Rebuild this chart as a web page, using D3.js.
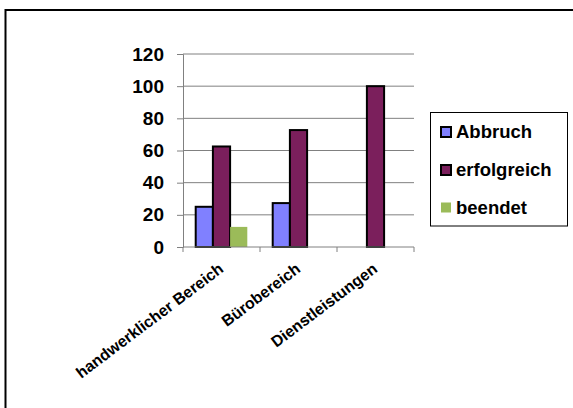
<!DOCTYPE html>
<html><head><meta charset="utf-8">
<script src="https://cdn.jsdelivr.net/npm/d3@7"></script>
<style>body{margin:0;background:#fff;overflow:hidden}svg{display:block}text{font-family:"Liberation Sans",Arial,sans-serif;font-weight:bold;fill:#000}</style>
</head><body>
<script>
const categories = ["handwerklicher Bereich", "Bürobereich", "Dienstleistungen"];
const seriesNames = ["Abbruch", "erfolgreich", "beendet"];
const abbruch = [25, 27.3, 0];
const erfolgreich = [62.5, 72.7, 100];
const beendet = [12.5, 0, 0];
const yTicks = [0, 20, 40, 60, 80, 100, 120];
const colors = ["#8080FF", "#7B1F5C", "#9BBB59"];
const strokes = ["#000", "#000", "none"];

(function () {
const W = 573, H = 408;
const svg = d3.select("body").append("svg").attr("width", W).attr("height", H);
svg.append("rect").attr("x", 5.5).attr("y", 10).attr("width", 580).attr("height", 420)
  .attr("fill", "none").attr("stroke", "#000").attr("stroke-width", 2);

const pLeft = 183, pRight = 414, pTop = 54, pBottom = 247;
const y = d3.scaleLinear().domain([0, 120]).range([pBottom, pTop]);
const x0 = d3.scaleBand().domain(categories).range([pLeft, pRight]);
const bw = x0.bandwidth();
const x1 = d3.scaleBand().domain(seriesNames).range([bw * 0.165, bw * 0.835]);

// gridlines
svg.append("g").selectAll("line").data(yTicks.filter(d => d > 0)).join("line")
  .attr("x1", pLeft).attr("x2", pRight).attr("y1", d => y(d)).attr("y2", d => y(d))
  .attr("stroke", "#808080").attr("stroke-width", 1);

// y axis
const yAxis = svg.append("g").attr("transform", `translate(${pLeft},0)`)
  .call(d3.axisLeft(y).tickValues(yTicks).tickSize(6).tickPadding(13));
yAxis.select(".domain").attr("stroke", "#808080");
yAxis.selectAll(".tick line").attr("stroke", "#808080");
yAxis.selectAll("text").attr("font-size", 19).attr("font-family", "Liberation Sans, Arial").attr("font-weight", "bold").attr("fill", "#000");

// bars
const data = seriesNames.map((s, i) => ({ name: s, values: [abbruch, erfolgreich, beendet][i], color: colors[i], stroke: strokes[i] }));
const bars = [];
data.forEach(s => s.values.forEach((v, j) => { if (v > 0) bars.push({ s, cat: categories[j], v }); }));
svg.append("g").selectAll("rect").data(bars).join("rect")
  .attr("x", d => x0(d.cat) + x1(d.s.name))
  .attr("width", x1.bandwidth())
  .attr("y", d => y(d.v))
  .attr("height", d => y(0) - y(d.v))
  .attr("fill", d => d.s.color)
  .attr("stroke", d => d.s.stroke)
  .attr("stroke-width", 2);

// x axis
const xAxis = svg.append("g").attr("transform", `translate(0,${pBottom})`);
xAxis.append("line").attr("x1", pLeft).attr("x2", pRight).attr("stroke", "#808080");
xAxis.selectAll("line.tk").data(d3.range(categories.length + 1)).join("line").attr("class", "tk")
  .attr("x1", i => pLeft + i * bw).attr("x2", i => pLeft + i * bw).attr("y1", 0).attr("y2", 5)
  .attr("stroke", "#808080");
svg.append("g").selectAll("text").data(categories).join("text")
  .attr("transform", d => `translate(${x0(d) + bw / 2 + 3},${271}) rotate(-37)`)
  .attr("text-anchor", "end")
  .attr("font-size", 15.9)
  .text(d => d);

// legend
const lg = svg.append("g");
lg.append("rect").attr("x", 430.5).attr("y", 112.5).attr("width", 137).attr("height", 113.5)
  .attr("fill", "#fff").attr("stroke", "#000").attr("stroke-width", 1);
const rowY = [132, 170, 207.5];
const items = lg.selectAll("g").data(data).join("g").attr("transform", (d, i) => `translate(441,${rowY[i]})`);
items.append("rect").attr("x", 0).attr("y", -5).attr("width", 10).attr("height", 10)
  .attr("fill", d => d.color).attr("stroke", d => d.stroke).attr("stroke-width", 2);
items.append("text").attr("x", 15).attr("dy", "0.35em").attr("font-size", 18.5).text(d => d.name);
})();
</script>
</body></html>
